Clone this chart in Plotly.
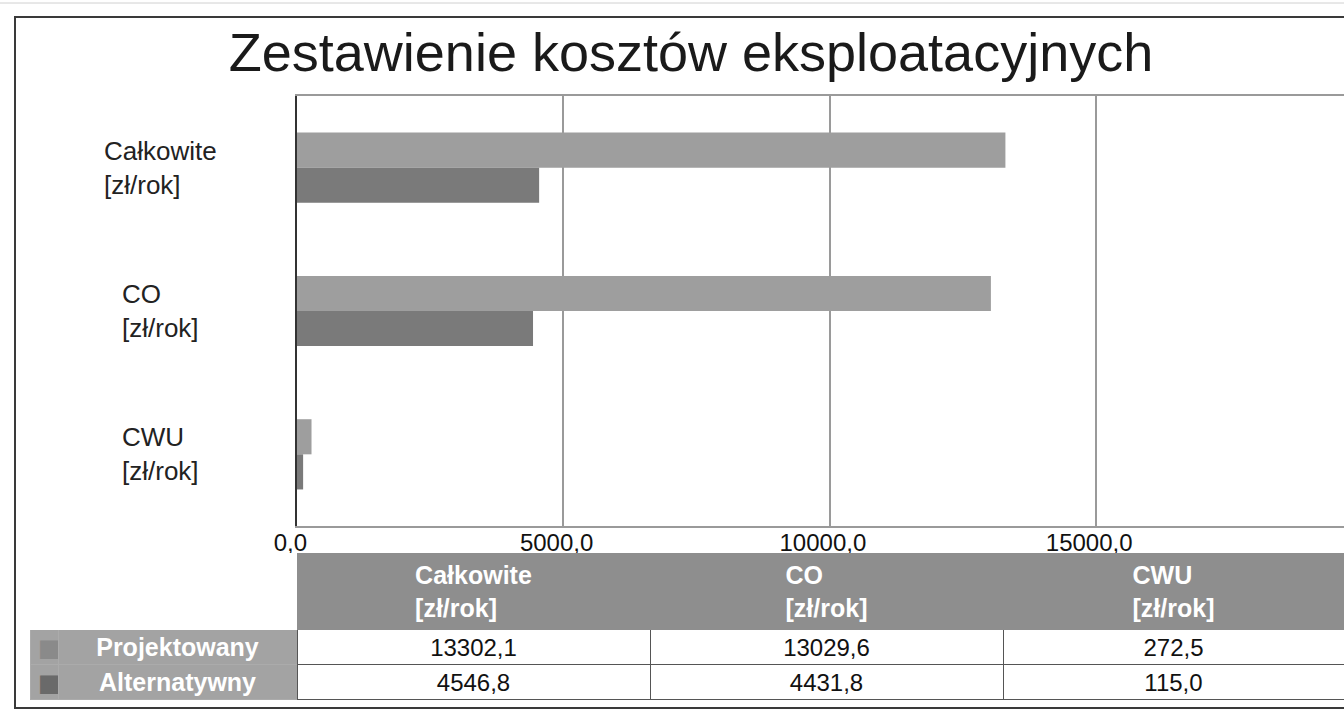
import plotly.graph_objects as go

# ---- data ----
categories = ["Całkowite<br>[zł/rok]", "CO<br>[zł/rok]", "CWU<br>[zł/rok]"]
series_names = ["Projektowany", "Alternatywny"]
projektowany = [13302.1, 13029.6, 272.5]
alternatywny = [4546.8, 4431.8, 115.0]
tick_values = [0, 5000, 10000, 15000, 20000]
title_text = "Zestawienie kosztów eksploatacyjnych"

# ---- styles ----
W, H = 1344, 712
col_proj = "#9e9e9e"
col_alt = "#7a7a7a"
square_colors = ["#8a8a8a", "#6a6a6a"]
header_fill = "#8e8e8e"
rowhead_fill = "#a3a3a3"
font_main = "Liberation Sans, Arial, Helvetica"

def px_x(p):
    return p / W

def px_y(p):
    return 1 - p / H

def fmt(v):
    return f"{v:.1f}".replace(".", ",")

fig = go.Figure()

fig.add_trace(go.Bar(
    y=categories, x=projektowany, name=series_names[0], orientation="h",
    marker=dict(color=col_proj, line=dict(width=0)), showlegend=False,
))
fig.add_trace(go.Bar(
    y=categories, x=alternatywny, name=series_names[1], orientation="h",
    marker=dict(color=col_alt, line=dict(width=0)), showlegend=False,
))

# ---- table under the chart ----
series_values = [projektowany, alternatywny]
hdr_vals = ["", ""] + ["<b>" + c + "</b>" for c in categories]
cell_cols = [["■"] * len(series_names), list(series_names)]
for i in range(len(categories)):
    cell_cols.append([fmt(series_values[s][i]) for s in range(len(series_names))])

rowhead_line = "#ababab"
fig.add_trace(go.Table(
    domain=dict(x=[px_x(30), 1.0], y=[px_y(702), px_y(553)]),
    columnwidth=[28, 239, 353, 353, 341],
    header=dict(
        values=hdr_vals,
        fill=dict(color=["white", "white"] + [header_fill] * len(categories)),
        line=dict(color=["white", "white"] + [header_fill] * len(categories), width=1),
        font=dict(family=font_main, size=25, color="white"),
        align="center",
        height=70,
    ),
    cells=dict(
        values=cell_cols,
        fill=dict(color=[rowhead_fill, rowhead_fill] + ["white"] * len(categories)),
        line=dict(color=[rowhead_line, rowhead_line] + ["#555555"] * len(categories), width=1),
        font=dict(
            family=["DejaVu Sans", font_main] + [font_main] * len(categories),
            size=[24, 25] + [24] * len(categories),
            color=[square_colors, ["white"] * len(series_names)]
                  + [["#111"] * len(series_names)] * len(categories),
            weight=["normal", "bold"] + ["normal"] * len(categories),
        ),
        align=["left", "center"] + ["center"] * len(categories),
        height=35,
    ),
))

# category labels on the left (through the y axis scale)
for c in categories:
    fig.add_annotation(
        x=px_x(160), xref="paper", y=c, yref="y",
        text=c, showarrow=False, xanchor="center", yanchor="middle", align="left",
        font=dict(family=font_main, size=26, color="#222"),
    )

fig.update_layout(
    width=W, height=H,
    margin=dict(l=0, r=0, t=0, b=0, autoexpand=False),
    paper_bgcolor="white", plot_bgcolor="white",
    barmode="group", bargap=0.51, bargroupgap=0,
    separators=", ",
    title=dict(text=title_text, x=px_x(691), xanchor="center",
               y=px_y(52), yanchor="middle",
               font=dict(family=font_main, size=54, color="#1a1a1a")),
    xaxis=dict(
        domain=[px_x(297), 1.0], range=[0, 19660],
        tickvals=tick_values,
        ticktext=[fmt(v) + "\u00a0\u00a0" for v in tick_values],
        showgrid=True, gridcolor="#9a9a9a", gridwidth=2,
        zeroline=False,
        showline=True, linecolor="#9a9a9a", linewidth=2, mirror=True,
        ticks="", tickfont=dict(family=font_main, size=24, color="#111"),
        ticklabelstandoff=-6, automargin=False,
    ),
    yaxis=dict(
        domain=[px_y(526), px_y(96)],
        autorange="reversed", showticklabels=False,
        showgrid=False, zeroline=False,
        showline=True, linecolor="#333", linewidth=2,
        ticks="", automargin=False,
    ),
    shapes=[
        dict(type="rect", xref="paper", yref="paper",
             x0=px_x(15), x1=1.02, y0=px_y(708), y1=px_y(17),
             line=dict(color="#3a3a3a", width=2), fillcolor="rgba(0,0,0,0)", layer="below"),
        dict(type="line", xref="paper", yref="paper",
             x0=0, x1=1, y0=px_y(3), y1=px_y(3),
             line=dict(color="#d0d0d0", width=1)),
    ],
)

fig.write_html(
    "out.html",
    config={"displayModeBar": False},
    post_script="document.body.style.margin='0';document.body.style.overflow='hidden';",
)
